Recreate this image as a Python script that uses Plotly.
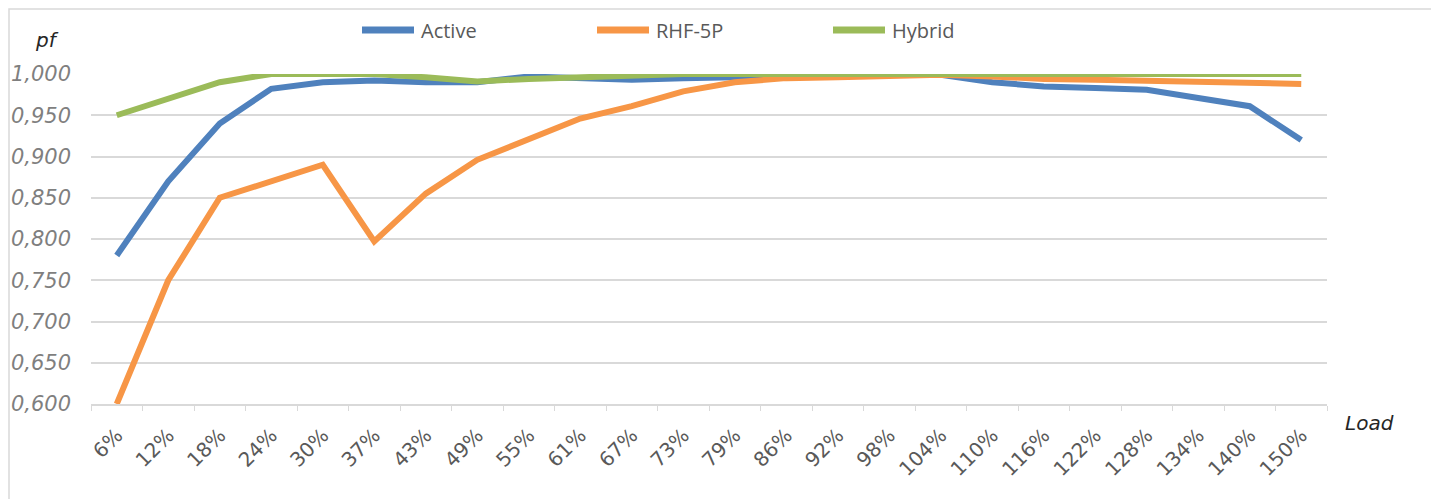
import plotly.graph_objects as go

categories = ["6%", "12%", "18%", "24%", "30%", "37%", "43%", "49%", "55%", "61%", "67%", "73%",
              "79%", "86%", "92%", "98%", "104%", "110%", "116%", "122%", "128%", "134%", "140%", "150%"]

active = [0.780, 0.870, 0.940, 0.982, 0.990, 0.992, 0.990, 0.990, 0.997, 0.995, 0.993, 0.995,
          0.996, 1.000, 1.000, 1.000, 0.999, 0.990, 0.985, 0.983, 0.981, 0.971, 0.961, 0.920]
rhf5p = [0.600, 0.750, 0.850, 0.870, 0.890, 0.797, 0.855, 0.896, 0.921, 0.946, 0.961, 0.979,
         0.990, 0.995, 0.996, 0.998, 0.999, 0.997, 0.994, 0.993, 0.992, 0.991, 0.990, 0.988]
hybrid = [0.950, 0.970, 0.990, 1.000, 1.000, 1.000, 0.996, 0.991, 0.994, 0.996, 0.998, 1.000,
          1.000, 1.000, 1.000, 1.000, 1.000, 1.000, 1.000, 1.000, 1.000, 1.000, 1.000, 1.000]

series = [("Active", active, "#4F81BD"), ("RHF-5P", rhf5p, "#F79646"), ("Hybrid", hybrid, "#9BBB59")]
legend_x = [359, 594, 830]  # pixel start of each legend line sample

OFF = 8  # browser body margin
W, H = 1439, 499
L, R, T, B = 91 - OFF, 1439 - 1327 + OFF, 74 - OFF, 499 - 404 + OFF
pw, ph = W - L - R, H - T - B


def px(xp):
    return (xp - OFF - L) / pw


def py(yp):
    return (H - B - (yp - OFF)) / ph


fig = go.Figure()
for name, vals, col in series:
    fig.add_trace(go.Scatter(x=categories, y=vals, name=name, mode="lines",
                             line=dict(color=col, width=6), showlegend=False))

shapes = [dict(type="rect", xref="paper", yref="paper",
               x0=px(9), x1=px(1433), y0=py(530), y1=py(9),
               line=dict(color="#D9D9D9", width=1.5), fillcolor="rgba(0,0,0,0)", layer="above")]
annotations = [
    dict(text="pf", xref="paper", yref="paper", x=px(47), y=py(40), xanchor="center", yanchor="middle",
         showarrow=False, font=dict(family="DejaVu Sans", size=20, color="#262626", style="italic")),
    dict(text="Load", xref="paper", yref="paper", x=px(1369), y=py(423), xanchor="center", yanchor="middle",
         showarrow=False, font=dict(family="DejaVu Sans", size=20, color="#262626", style="italic")),
]
for (name, vals, col), lx in zip(series, legend_x):
    shapes.append(dict(type="line", xref="paper", yref="paper", x0=px(lx + 3), x1=px(lx + 55),
                       y0=py(30), y1=py(30), line=dict(color=col, width=7)))
    annotations.append(dict(text=name, xref="paper", yref="paper", x=px(lx + 60), y=py(30),
                            xanchor="left", yanchor="middle", showarrow=False,
                            font=dict(family="Open Sans", size=20, color="#595959")))

fig.update_layout(
    width=W, height=H,
    margin=dict(l=L, r=R, t=T, b=B, autoexpand=False),
    plot_bgcolor="white", paper_bgcolor="white",
    separators=",.",
    font=dict(family="DejaVu Sans", color="#595959"),
    showlegend=False,
    xaxis=dict(type="category", tickangle=-45, tickson="boundaries", ticks="outside",
               ticklen=5, tickcolor="#D9D9D9", showline=True, linecolor="#D9D9D9", linewidth=1.5,
               showgrid=False, ticklabelstandoff=10,
               tickfont=dict(family="DejaVu Sans", size=20, color="#595959"),
               range=[-0.5, len(categories) - 0.5]),
    yaxis=dict(range=[0.6, 1.0], dtick=0.05, tickformat=".3f", showgrid=True, gridcolor="#D9D9D9",
               gridwidth=1.5, zeroline=False, showline=False, ticklabelstandoff=19,
               tickfont=dict(family="DejaVu Sans", size=21, color="#7F7F7F", style="italic"),
               ticks=""),
    shapes=shapes,
    annotations=annotations,
)

fig.write_html("out.html")
